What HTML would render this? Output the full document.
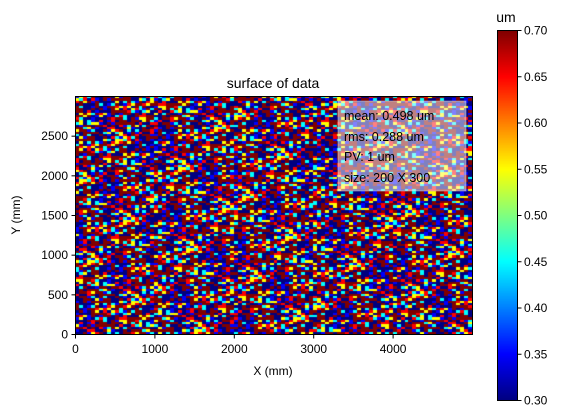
<!DOCTYPE html>
<html><head><meta charset="utf-8"><style>
body{margin:0;background:#fff;width:565px;height:418px;overflow:hidden;font-family:"Liberation Sans",sans-serif}
#root{position:relative;width:565px;height:418px}
</style></head><body>
<div id="root">
<svg id="svg" width="565" height="418" style="position:absolute;left:0;top:0">
<foreignObject x="75" y="96" width="397" height="238"><canvas id="hm" width="397" height="238" xmlns="http://www.w3.org/1999/xhtml"></canvas></foreignObject>
<foreignObject x="497" y="30" width="20" height="370"><canvas id="cb" width="20" height="370" xmlns="http://www.w3.org/1999/xhtml"></canvas></foreignObject>
<rect x="338" y="101" width="128" height="90" fill="#fff" fill-opacity="0.5" stroke="#ccc" stroke-opacity="0.5"/>
<rect x="75.5" y="96.5" width="397" height="238" fill="none" stroke="#000" stroke-width="1"/>
<rect x="497.5" y="30.5" width="20" height="370" fill="none" stroke="#000" stroke-width="1"/>
<g id="axes"></g>
<text x="273" y="88" font-size="14" text-anchor="middle">surface of data</text>
<text x="273" y="375" font-size="12" text-anchor="middle">X (mm)</text>
<text x="20" y="215" font-size="12" text-anchor="middle" transform="rotate(-90 20 215)">Y (mm)</text>
<text x="506" y="22" font-size="14" text-anchor="middle">um</text>
<g font-size="12.5">
<text x="344" y="120">mean: 0.498 um</text>
<text x="344" y="141">rms: 0.288 um</text>
<text x="344" y="161">PV: 1 um</text>
<text x="344" y="182">size: 200 X 300</text>
</g>
</svg>
</div>
<script>
const xTicks=[0,1000,2000,3000,4000];
const yTicks=[0,500,1000,1500,2000,2500];
const cbTicks=[0.30,0.35,0.40,0.45,0.50,0.55,0.60,0.65,0.70];
const tile=[
[3,7,1,5,8,0,6,2,9,4,5,1,8,3,6,2,7,4,0,9],
[6,2,9,4,0,5,3,7,1,8,2,6,4,9,0,7,3,5,8,1],
[0,5,3,7,9,2,8,4,6,1,7,0,9,5,3,8,1,6,2,4],
[8,1,6,0,3,7,4,9,2,5,3,8,1,6,9,4,0,7,5,2],
[4,9,2,8,6,1,0,5,7,3,9,4,6,2,1,5,8,3,7,0],
[1,6,7,3,4,9,5,0,8,2,0,7,3,8,5,1,6,9,4,6],
[7,0,5,9,2,3,8,6,1,4,6,2,5,0,7,9,2,1,3,8],
[2,8,4,6,7,1,3,9,5,0,8,5,9,1,4,3,0,6,9,5],
[5,3,9,1,0,6,7,2,4,8,1,3,0,7,2,6,9,4,1,7],
[9,4,0,7,5,8,2,1,3,6,4,9,2,5,8,0,5,8,6,3],
[3,6,8,2,1,4,9,7,0,5,7,1,6,3,9,2,4,0,7,1],
[6,0,2,5,9,3,1,4,8,7,2,8,4,0,6,7,3,5,2,9],
[1,7,4,8,3,0,6,5,2,9,5,3,7,9,1,4,8,2,0,6],
[8,5,0,3,6,9,4,8,7,1,0,6,2,4,5,9,1,7,3,4],
[2,9,6,1,4,7,0,3,5,2,8,9,5,1,3,0,6,8,4,5],
[5,3,7,9,8,2,5,1,6,4,3,0,7,8,2,6,9,1,5,0],
[0,8,1,4,2,6,9,7,3,0,9,4,1,6,7,3,2,5,8,7]];
function jet(v){const t=Math.max(0,Math.min(1,(v-0.3)/0.4));
const r=Math.min(1,Math.max(0,1.5-Math.abs(4*t-3))),g=Math.min(1,Math.max(0,1.5-Math.abs(4*t-2))),b=Math.min(1,Math.max(0,1.5-Math.abs(4*t-1)));
return `rgb(${Math.round(r*255)},${Math.round(g*255)},${Math.round(b*255)})`;}
const X0=75,X1=472,Y0=334,Y1=96,CB0=400,CB1=30;
const xs=v=>X0+v/5000*(X1-X0), ys=v=>Y0-v/3000*(Y0-Y1), cs=v=>CB0-(v-0.3)/0.4*(CB0-CB1);
const hm=document.getElementById('hm').getContext('2d');
const cols=100,rows=100,cw=397/cols,rh=238/rows;
for(let r=0;r<rows;r++)for(let c=0;c<cols;c++){
 const row=tile[(r*7+Math.floor(c/20))%17];
 const v=(row[(c*3+r*11)%20]+0.5)/10;
 const x0=Math.round(c*cw),x1=Math.round((c+1)*cw),y0=Math.round(r*rh),y1=Math.round((r+1)*rh);
 hm.fillStyle=jet(v);hm.fillRect(x0,y0,x1-x0,y1-y0);}
const cb=document.getElementById('cb').getContext('2d');
for(let i=0;i<370;i++){cb.fillStyle=jet(0.7-i/370*0.4);cb.fillRect(0,i,20,1);}
const ax=document.getElementById('axes'),NS='http://www.w3.org/2000/svg';
function mk(tag,attrs,txt){const e=document.createElementNS(NS,tag);for(const k in attrs)e.setAttribute(k,attrs[k]);if(txt!==undefined)e.textContent=txt;ax.appendChild(e);return e;}
xTicks.forEach(v=>{const x=xs(v)+0.5;
 const l=mk('line',{x1:x,x2:x,y1:334.5,y2:338.5,stroke:'#000'});
 
 
 const t=mk('text',{x:x,y:353,'font-size':12,'text-anchor':'middle'},String(v));
 
 });
yTicks.forEach(v=>{const y=ys(v)+0.5;
 const l=mk('line',{x1:71.5,x2:75.5,y1:y,y2:y,stroke:'#000'});
 
 
 const t=mk('text',{x:68,y:y+4,'font-size':12,'text-anchor':'end'},String(v));
 
 });
cbTicks.forEach(v=>{const y=cs(v)+0.5;
 const l=mk('line',{x1:517.5,x2:521.5,y1:y,y2:y,stroke:'#000'});
 
 
 const t=mk('text',{x:524,y:y+4,'font-size':12},v.toFixed(2));
 
 });
</script>
</body></html>
